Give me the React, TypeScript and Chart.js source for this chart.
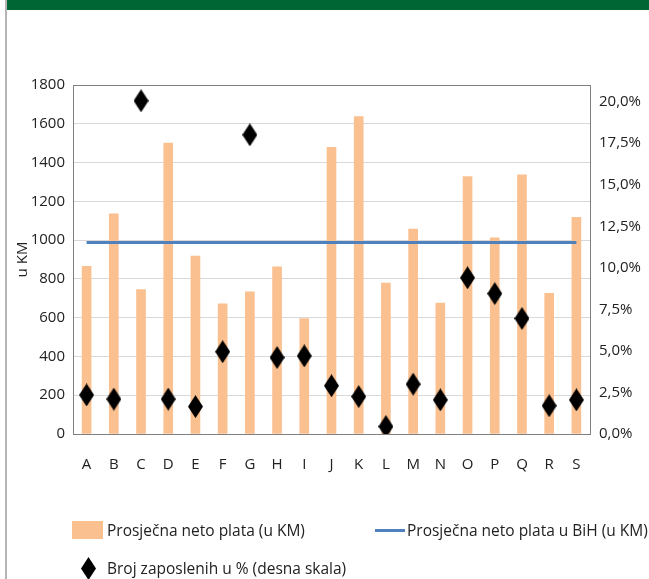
import React, { useEffect, useRef } from "react";
import { Chart, registerables } from "chart.js";

Chart.register(...registerables);

const categories = ["A", "B", "C", "D", "E", "F", "G", "H", "I", "J", "K", "L", "M", "N", "O", "P", "Q", "R", "S"];
const avgNetSalary = [865, 1135, 745, 1500, 918, 672, 733, 862, 595, 1478, 1637, 778, 1057, 675, 1328, 1012, 1337, 725, 1118];
const bihAverage = 988;
const employeeShare = [2.35, 2.1, 20.05, 2.1, 1.65, 4.95, 18.0, 4.6, 4.7, 2.9, 2.25, 0.45, 3.0, 2.05, 9.4, 8.45, 6.95, 1.7, 2.05];
const leftTicks = [0, 200, 400, 600, 800, 1000, 1200, 1400, 1600, 1800];
const rightTicks = [0, 2.5, 5, 7.5, 10, 12.5, 15, 17.5, 20];
const rightAxisMax = 21;

const legendLabels = [
  "Prosječna neto plata (u KM)",
  "Prosječna neto plata u BiH (u KM)",
  "Broj zaposlenih u % (desna skala)",
];

const FONT = "'Open Sans', sans-serif";

function makeDiamond(w: number, h: number): HTMLCanvasElement {
  const c = document.createElement("canvas");
  c.width = w;
  c.height = h;
  const ctx = c.getContext("2d")!;
  ctx.fillStyle = "#000";
  ctx.beginPath();
  ctx.moveTo(w / 2, 0);
  ctx.lineTo(w, h / 2);
  ctx.lineTo(w / 2, h);
  ctx.lineTo(0, h / 2);
  ctx.closePath();
  ctx.fill();
  return c;
}

const borderPlugin = {
  id: "plotBorder",
  afterDatasetsDraw(chart: any) {
    const { ctx, chartArea } = chart;
    ctx.save();
    ctx.strokeStyle = "#7f7f7f";
    ctx.lineWidth = 1;
    ctx.strokeRect(
      Math.round(chartArea.left) + 0.5,
      Math.round(chartArea.top) + 0.5,
      Math.round(chartArea.right - chartArea.left),
      Math.round(chartArea.bottom - chartArea.top)
    );
    ctx.restore();
  },
};

export default function App() {
  const canvasRef = useRef<HTMLCanvasElement>(null);

  useEffect(() => {
    const diamond = makeDiamond(15, 23);
    const chart = new Chart(canvasRef.current!, {
      type: "bar",
      data: {
        labels: categories,
        datasets: [
          {
            type: "bar",
            label: legendLabels[0],
            data: avgNetSalary,
            backgroundColor: "#FAC090",
            barThickness: 9,
            yAxisID: "y",
            order: 3,
          },
          {
            type: "line",
            label: legendLabels[1],
            data: categories.map(() => bihAverage),
            borderColor: "#4F81BD",
            borderWidth: 3,
            pointRadius: 0,
            yAxisID: "y",
            order: 2,
          },
          {
            type: "line",
            label: legendLabels[2],
            data: employeeShare,
            showLine: false,
            pointStyle: diamond as any,
            pointRadius: 10,
            yAxisID: "y1",
            order: 1,
          },
        ] as any,
      },
      options: {
        responsive: false,
        animation: false,
        layout: { padding: { top: 85, left: 0, right: 0, bottom: 0 } },
        plugins: {
          legend: { display: false },
          tooltip: { enabled: false },
        },
        scales: {
          x: {
            grid: { display: false, drawTicks: false },
            border: { display: false },
            ticks: { color: "#222", font: { family: FONT, size: 15 }, padding: 22 },
            afterFit: (s: any) => {
              s.height = 145;
            },
          },
          y: {
            position: "left",
            min: 0,
            max: leftTicks[leftTicks.length - 1],
            afterBuildTicks: (s: any) => {
              s.ticks = leftTicks.map((v) => ({ value: v }));
            },
            ticks: {
              color: "#222",
              font: { family: FONT, size: 15 },
              padding: 8,
              callback: (v: any) => String(v),
            },
            grid: { color: "#d9d9d9", drawTicks: false },
            border: { display: false },
            title: {
              display: true,
              text: "u KM",
              color: "#222",
              font: { family: FONT, size: 15 },
              padding: { top: 14, bottom: 0 },
            },
            afterFit: (s: any) => {
              s.width = 73;
            },
          },
          y1: {
            position: "right",
            min: 0,
            max: rightAxisMax,
            afterBuildTicks: (s: any) => {
              s.ticks = rightTicks.map((v) => ({ value: v }));
            },
            ticks: {
              color: "#222",
              font: { family: FONT, size: 15 },
              padding: 9,
              callback: (v: any) => Number(v).toFixed(1).replace(".", ",") + "%",
            },
            grid: { display: false, drawTicks: false },
            border: { display: false },
            afterFit: (s: any) => {
              s.width = 59;
            },
          },
        },
      } as any,
      plugins: [borderPlugin],
    });
    return () => chart.destroy();
  }, []);

  const legendText: React.CSSProperties = {
    position: "absolute",
    fontFamily: FONT,
    fontSize: 15.5,
    color: "#222",
    whiteSpace: "nowrap",
    lineHeight: "20px",
  };

  return (
    <div style={{ position: "absolute", left: 0, top: 0, width: 649, height: 579, background: "#fff", overflow: "hidden" }}>
      <div style={{ position: "absolute", left: 5, top: 0, width: 2, height: 579, background: "#b5b5b5" }} />
      <div style={{ position: "absolute", left: 7, top: 0, width: 642, height: 10, background: "#006633" }} />
      <canvas ref={canvasRef} width={649} height={579} style={{ position: "absolute", left: 0, top: 0, width: 649, height: 579 }} />
      <div style={{ position: "absolute", left: 72, top: 521, width: 31, height: 18, background: "#FAC090" }} />
      <div style={{ ...legendText, left: 107, top: 520 }}>{legendLabels[0]}</div>
      <div style={{ position: "absolute", left: 375, top: 529, width: 30, height: 3, background: "#4F81BD" }} />
      <div style={{ ...legendText, left: 407, top: 520 }}>{legendLabels[1]}</div>
      <div
        style={{
          position: "absolute",
          left: 81,
          top: 557,
          width: 15,
          height: 23,
          background: "#000",
          clipPath: "polygon(50% 0, 100% 50%, 50% 100%, 0 50%)",
        }}
      />
      <div style={{ ...legendText, left: 107, top: 558 }}>{legendLabels[2]}</div>
    </div>
  );
}
